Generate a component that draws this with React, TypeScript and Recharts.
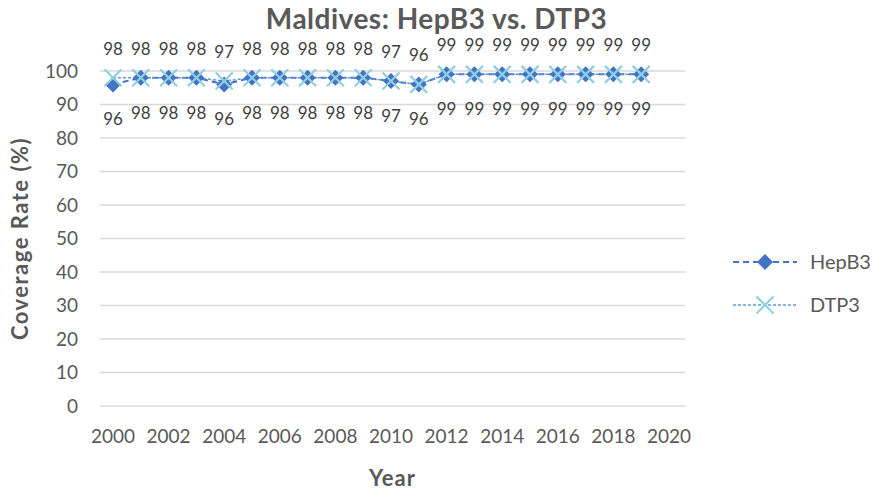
import React from "react";
import {
  LineChart,
  Line,
  XAxis,
  YAxis,
  CartesianGrid,
  LabelList,
  Label,
} from "recharts";

const years = [
  2000, 2001, 2002, 2003, 2004, 2005, 2006, 2007, 2008, 2009, 2010, 2011, 2012,
  2013, 2014, 2015, 2016, 2017, 2018, 2019,
];
const hepB3 = [96, 98, 98, 98, 96, 98, 98, 98, 98, 98, 97, 96, 99, 99, 99, 99, 99, 99, 99, 99];
const dtp3 = [98, 98, 98, 98, 97, 98, 98, 98, 98, 98, 97, 96, 99, 99, 99, 99, 99, 99, 99, 99];
const xTicks = [2000, 2002, 2004, 2006, 2008, 2010, 2012, 2014, 2016, 2018, 2020];
const yTicks = [0, 10, 20, 30, 40, 50, 60, 70, 80, 90, 100];

const data = years.map((year, i) => ({ year, hepB3: hepB3[i], dtp3: dtp3[i] }));

const FONT = "Lato, 'Open Sans', sans-serif";
const TEXT = "#595959";
const HEP_COLOR = "#4472C4";
const DTP_LINE = "#5B9BD5";
const DTP_MARK = "#8ED0E0";

function Diamond(props: any) {
  const { cx, cy } = props;
  if (cx == null || cy == null) return null;
  const r = 8;
  return (
    <path
      d={`M${cx},${cy - r} L${cx + r},${cy} L${cx},${cy + r} L${cx - r},${cy} Z`}
      fill={HEP_COLOR}
    />
  );
}

function Cross(props: any) {
  const { cx, cy } = props;
  if (cx == null || cy == null) return null;
  const r = 8.5;
  return (
    <g stroke={DTP_MARK} strokeWidth={2.2}>
      <line x1={cx - r} y1={cy - r} x2={cx + r} y2={cy + r} />
      <line x1={cx - r} y1={cy + r} x2={cx + r} y2={cy - r} />
    </g>
  );
}

function LegendBox() {
  return (
    <svg width={143} height={80} style={{ fontFamily: FONT, display: "block" }}>
      <line x1={3} y1={14} x2={67} y2={14} stroke={HEP_COLOR} strokeWidth={2} strokeDasharray="6 4" />
      <Diamond cx={35} cy={14} />
      <text x={80} y={21} fontSize={20} fill={TEXT}>HepB3</text>
      <line x1={3} y1={57} x2={67} y2={57} stroke={DTP_LINE} strokeWidth={1.5} strokeDasharray="3 2" />
      <Cross cx={35} cy={57} />
      <text x={80} y={64} fontSize={20} fill={TEXT}>DTP3</text>
    </svg>
  );
}

export default function App() {
  return (
    <div style={{ position: "fixed", left: 0, top: 0, width: 873, height: 491, background: "#fff" }}>
      <LineChart
        width={873}
        height={491}
        data={data}
        margin={{ top: 71, right: 188, bottom: 0, left: 0 }}
        style={{ fontFamily: FONT }}
      >
        <CartesianGrid vertical={false} stroke="#d9d9d9" strokeWidth={1.5} />
        <XAxis
          dataKey="year"
          type="number"
          domain={[2000, 2020]}
          ticks={xTicks}
          padding={{ left: 13, right: 16 }}
          axisLine={false}
          tickLine={false}
          tickSize={0}
          tickMargin={24}
          height={85}
          tick={{ fill: TEXT, fontSize: 19 }}
          interval={0}
        >
          <Label
            value="Year"
            position="insideBottom"
            offset={5}
            style={{ fill: TEXT, fontSize: 22, fontWeight: 700, letterSpacing: 1 }}
          />
        </XAxis>
        <YAxis
          type="number"
          domain={[0, 100]}
          ticks={yTicks}
          width={100}
          axisLine={false}
          tickLine={false}
          tickSize={0}
          tickMargin={22}
          tick={{ fill: TEXT, fontSize: 19 }}
          interval={0}
        >
          <Label
            value="Coverage Rate (%)"
            angle={-90}
            position="insideLeft"
            offset={20}
            style={{ fill: TEXT, fontSize: 22, fontWeight: 700, letterSpacing: 1.5, textAnchor: "middle" }}
          />
        </YAxis>
        <Line
          dataKey="hepB3"
          name="HepB3"
          stroke={HEP_COLOR}
          strokeWidth={2}
          strokeDasharray="6 4"
          dot={<Diamond />}
          activeDot={false}
          isAnimationActive={false}
        >
          <LabelList dataKey="hepB3" position="bottom" offset={29} style={{ fill: "#404040", fontSize: 17 }} />
        </Line>
        <Line
          dataKey="dtp3"
          name="DTP3"
          stroke={DTP_LINE}
          strokeWidth={1.5}
          strokeDasharray="3 2"
          dot={<Cross />}
          activeDot={false}
          isAnimationActive={false}
        >
          <LabelList dataKey="dtp3" position="top" offset={23} style={{ fill: "#404040", fontSize: 17 }} />
        </Line>
      </LineChart>
      <div
        style={{
          position: "absolute",
          left: 0,
          width: 873,
          top: 1,
          textAlign: "center",
          fontFamily: FONT,
          fontWeight: 700,
          fontSize: 28,
          letterSpacing: 0.5,
          color: TEXT,
        }}
      >
        Maldives: HepB3 vs. DTP3
      </div>
      <div style={{ position: "absolute", left: 730, top: 248 }}>
        <LegendBox />
      </div>
    </div>
  );
}
